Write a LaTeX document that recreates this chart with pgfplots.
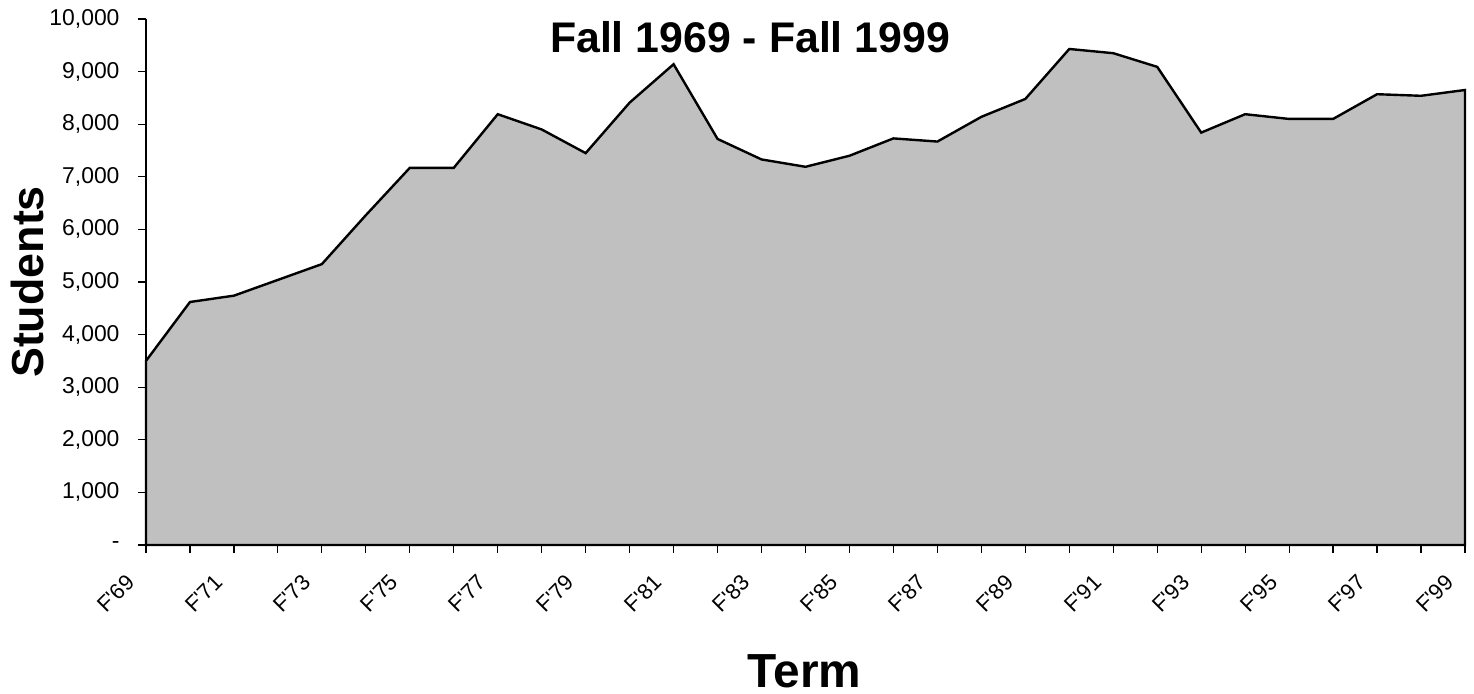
\documentclass[border=0pt]{standalone}
\usepackage{pgfplots}
\pgfplotsset{compat=1.18}
\usepackage{fontspec}
\setmainfont{Liberation Sans}[Ligatures=TeXOff]
\definecolor{areagray}{HTML}{C0C0C0}
\begin{document}
\begin{tikzpicture}
\begin{axis}[
  at={(0,0)}, anchor=south west,
  scale only axis, width=1319bp, height=526bp,
  xmin=1969, xmax=1999, ymin=0, ymax=10000,
  scaled x ticks=false, scaled y ticks=false,
  axis x line=bottom, axis y line=left,
  axis line style={-, line width=2bp, black},
  tick align=outside, major tick length=8bp, minor tick length=8bp,
  tick style={black, line width=1.2bp},
  xtick={1969,1971,1973,1975,1977,1979,1981,1983,1985,1987,1989,1991,1993,1995,1997,1999},
  minor xtick={1970,1972,1974,1976,1978,1980,1982,1984,1986,1988,1990,1992,1994,1996,1998},
  xticklabels={F'69,F'71,F'73,F'75,F'77,F'79,F'81,F'83,F'85,F'87,F'89,F'91,F'93,F'95,F'97,F'99},
  xticklabel style={xshift=-13bp, yshift=-23bp, rotate=45, anchor=east, font=\fontsize{22}{26}\selectfont},
  ytick={0,1000,2000,3000,4000,5000,6000,7000,8000,9000,10000},
  yticklabels={-,{1,000},{2,000},{3,000},{4,000},{5,000},{6,000},{7,000},{8,000},{9,000},{10,000}},
  yticklabel style={xshift=-15bp, font=\fontsize{23}{27}\selectfont},
  xlabel={Term}, ylabel={Students},
  xlabel style={font=\bfseries\fontsize{48}{54}\selectfont, inner sep=0pt, at={(axis description cs:0.4992,-0.2700)}, anchor=base},
  ylabel style={font=\bfseries\fontsize{45}{50}\selectfont, at={(axis description cs:-0.0895,0.5)}, anchor=center, rotate=0},
  clip=false,
]
\addplot[fill=areagray, draw=black, line width=2.4bp, line join=miter] coordinates {
(1969,3500) (1970,4620) (1971,4740) (1972,5040) (1973,5340) (1974,6270)
(1975,7170) (1976,7170) (1977,8190) (1978,7900) (1979,7450) (1980,8410)
(1981,9140) (1982,7720) (1983,7330) (1984,7190) (1985,7400) (1986,7730)
(1987,7670) (1988,8140) (1989,8480) (1990,9430) (1991,9350) (1992,9090)
(1993,7840) (1994,8190) (1995,8100) (1996,8100) (1997,8570) (1998,8540)
(1999,8650)} \closedcycle;
\node[font=\bfseries\fontsize{43}{50}\selectfont, anchor=base, inner sep=0pt] at (axis description cs:0.458,0.937) {Fall 1969 - Fall 1999};
\end{axis}
\pgfresetboundingbox
\path[use as bounding box] (-146bp,-149bp) rectangle (1328bp,545bp);
\end{tikzpicture}
\end{document}
